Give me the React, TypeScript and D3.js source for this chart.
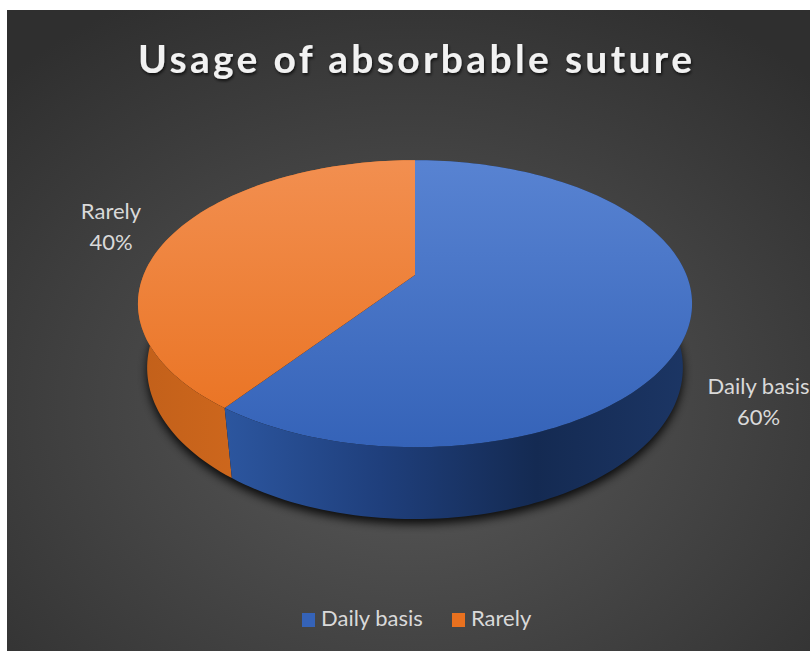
import { useEffect, useRef } from "react";
import * as d3 from "d3";

// chart data
const CATEGORIES = ["Daily basis", "Rarely"];
const VALUES = [60, 40];
const TITLE = "Usage of absorbable suture";

const W = 810;
const H = 651;
const FONT = "Lato, 'Open Sans', sans-serif";

// perspective camera for the 3D pie
const CX = 415;
const CY = 275;
const FOCAL = 1170;
const DIST = 4.31;
const TILT = (30.5 * Math.PI) / 180;
const DEPTH = 0.28; // thickness of the pie, in radius units
const LABEL_R = 1.27;

const TOP_COLORS: Record<string, [string, string]> = {
  "Daily basis": ["#5883d2", "#3563b8"],
  Rarely: ["#f28f50", "#e9711f"],
};
const SIDE_COLORS: Record<string, string[]> = {
  "Daily basis": ["#2c569f", "#1f3f7c", "#142a52", "#1c3665"],
  Rarely: ["#c2601a", "#e27321"],
};

function project(theta: number, r: number, w: number): [number, number] {
  const u = r * Math.sin(theta);
  const v = r * Math.cos(theta);
  const s = Math.sin(TILT);
  const c = Math.cos(TILT);
  const dist = DIST + v * c - w * s;
  return [CX + (FOCAL * u) / dist, CY - (FOCAL * (v * s + w * c)) / dist];
}

function arcPoints(a0: number, a1: number, w: number) {
  const n = Math.max(2, Math.ceil((Math.abs(a1 - a0) / (2 * Math.PI)) * 240));
  return d3.range(n + 1).map((i) => project(a0 + ((a1 - a0) * i) / n, 1, w));
}

export default function App() {
  const svgRef = useRef<SVGSVGElement>(null);

  useEffect(() => {
    const svg = d3.select(svgRef.current!);
    svg.selectAll("*").remove();

    const defs = svg.append("defs");

    const bg = defs
      .append("radialGradient")
      .attr("id", "bg")
      .attr("cx", "50%")
      .attr("cy", "62%")
      .attr("r", "72%");
    bg.append("stop").attr("offset", "0%").attr("stop-color", "#5a5a5a");
    bg.append("stop").attr("offset", "100%").attr("stop-color", "#2f2f2f");

    const blur = defs.append("filter").attr("id", "shadow").attr("x", "-20%").attr("y", "-20%").attr("width", "140%").attr("height", "140%");
    blur.append("feGaussianBlur").attr("stdDeviation", 5);

    const txtShadow = defs.append("filter").attr("id", "tshadow");
    txtShadow
      .append("feDropShadow")
      .attr("dx", 1)
      .attr("dy", 2)
      .attr("stdDeviation", 1.5)
      .attr("flood-color", "#000")
      .attr("flood-opacity", 0.7);

    // background panel
    svg
      .append("rect")
      .attr("x", 7)
      .attr("y", 10)
      .attr("width", W - 7)
      .attr("height", H - 10)
      .attr("fill", "url(#bg)");

    // title
    svg
      .append("text")
      .attr("x", CX)
      .attr("y", 73)
      .attr("text-anchor", "middle")
      .attr("font-family", FONT)
      .attr("font-weight", 700)
      .attr("font-size", 39)
      .attr("textLength", 554)
      .attr("lengthAdjust", "spacing")
      .attr("fill", "#f2f2f2")
      .attr("filter", "url(#tshadow)")
      .text(TITLE);

    const pie = d3.pie<number>().sort(null).value((d) => d);
    const arcs = pie(VALUES);
    const line = d3.line();

    // shadow under the pie
    svg
      .append("path")
      .attr("d", line(arcPoints(0, 2 * Math.PI, -DEPTH))! + "Z")
      .attr("transform", "translate(0,5)")
      .attr("fill", "#000")
      .attr("opacity", 0.85)
      .attr("filter", "url(#shadow)");

    // side walls, back slice first
    const order = arcs.map((a, i) => i).reverse();
    order.forEach((i) => {
      const a = arcs[i];
      const key = CATEGORIES[i];
      const top = arcPoints(a.startAngle, a.endAngle, 0);
      const bottom = arcPoints(a.endAngle, a.startAngle, -DEPTH);
      const pts = top.concat(bottom);
      const xs = d3.extent(pts, (p) => p[0]) as [number, number];
      const g = defs
        .append("linearGradient")
        .attr("id", `side${i}`)
        .attr("gradientUnits", "userSpaceOnUse")
        .attr("x1", xs[0])
        .attr("x2", xs[1])
        .attr("y1", 0)
        .attr("y2", 0);
      const stops = SIDE_COLORS[key];
      stops.forEach((col, j) =>
        g
          .append("stop")
          .attr("offset", `${(j / (stops.length - 1)) * 100}%`)
          .attr("stop-color", col)
      );
      svg
        .append("path")
        .attr("d", line(pts)! + "Z")
        .attr("fill", `url(#side${i})`);
    });

    // top faces
    arcs.forEach((a, i) => {
      const key = CATEGORIES[i];
      const pts = [project(0, 0, 0)].concat(arcPoints(a.startAngle, a.endAngle, 0));
      const ys = d3.extent(arcPoints(0, 2 * Math.PI, 0), (p) => p[1]) as [number, number];
      const g = defs
        .append("linearGradient")
        .attr("id", `top${i}`)
        .attr("gradientUnits", "userSpaceOnUse")
        .attr("x1", 0)
        .attr("x2", 0)
        .attr("y1", ys[0])
        .attr("y2", ys[1]);
      g.append("stop").attr("offset", "0%").attr("stop-color", TOP_COLORS[key][0]);
      g.append("stop").attr("offset", "100%").attr("stop-color", TOP_COLORS[key][1]);
      svg
        .append("path")
        .attr("d", line(pts)! + "Z")
        .attr("fill", `url(#top${i})`);
    });

    // data labels
    arcs.forEach((a, i) => {
      const mid = (a.startAngle + a.endAngle) / 2;
      const front = Math.cos(mid) < 0;
      const [lx, ly] = project(mid, LABEL_R, front ? -DEPTH : 0);
      const t = svg
        .append("text")
        .attr("text-anchor", "middle")
        .attr("font-family", FONT)
        .attr("font-size", 22)
        .attr("fill", "#d9d9d9");
      t.append("tspan").attr("x", lx).attr("y", ly - 6).text(CATEGORIES[i]);
      t.append("tspan")
        .attr("x", lx)
        .attr("y", ly + 25)
        .text(`${Math.round((a.value / d3.sum(VALUES)) * 100)}%`);
    });

    // legend
    const legendX = [302, 452];
    CATEGORIES.forEach((c, i) => {
      svg
        .append("rect")
        .attr("x", legendX[i])
        .attr("y", 613)
        .attr("width", 13)
        .attr("height", 14)
        .attr("fill", TOP_COLORS[c][1]);
      svg
        .append("text")
        .attr("x", legendX[i] + 19)
        .attr("y", 626)
        .attr("font-family", FONT)
        .attr("font-size", 22)
        .attr("fill", "#d9d9d9")
        .text(c);
    });
  }, []);

  return (
    <svg
      ref={svgRef}
      width={W}
      height={H}
      style={{ position: "fixed", left: 0, top: 0, background: "#fff" }}
    />
  );
}
